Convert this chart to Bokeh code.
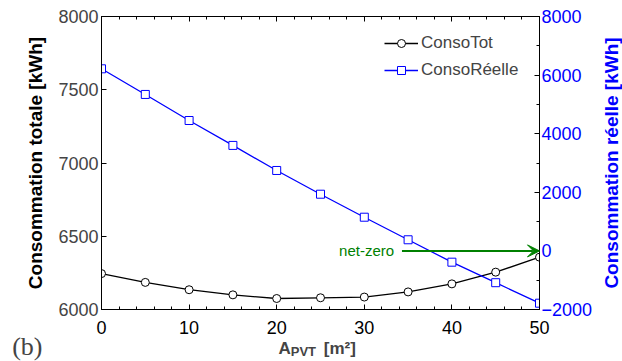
import math
from bokeh.plotting import figure
from bokeh.models import (Range1d, LinearAxis, SingleIntervalTicker, Legend, LegendItem,
                          Label, Arrow, VeeHead)
from bokeh.embed import file_html
from bokeh.resources import INLINE

# ---- data ----
area = [0, 5, 10, 15, 20, 25, 30, 35, 40, 45, 50]
conso_tot = [6245, 6185, 6135, 6100, 6075, 6080, 6085, 6120, 6175, 6255, 6357]
conso_reelle = [6215, 5340, 4450, 3600, 2745, 1935, 1150, 380, -385, -1085, -1785]
label_tot = "ConsoTot"
label_reelle = "ConsoRéelle"
ylabel_left = "Consommation totale [kWh]"
ylabel_right = "Consommation réelle [kWh]"
xlabel_main = "A"
xlabel_sub = "PVT"
xlabel_unit = "[m²]"
panel_tag = "(b)"
netzero_text = "net-zero"
arrow_from_x = 34.3
arrow_to_x = 50
arrow_y = 0

FONT = "Liberation Sans"
BLUE = "#0000ff"
GREEN = "#008000"
NBSP = "\u00a0"

p = figure(width=622, height=361, output_backend="svg", toolbar_location=None,
           x_range=Range1d(0, 50), y_range=Range1d(6000, 8000),
           min_border_left=101, min_border_right=83, min_border_top=16, min_border_bottom=52)
p.extra_y_ranges = {"y2": Range1d(-2000, 8000)}
p.xgrid.visible = False
p.ygrid.visible = False
p.outline_line_color = "black"
p.outline_line_width = 1
p.background_fill_color = "white"
p.border_fill_color = "white"

# x axis
xa = p.xaxis[0]
xa.ticker = SingleIntervalTicker(interval=10, num_minor_ticks=5)
xa.major_tick_in = 5
xa.major_tick_out = 0
xa.minor_tick_in = 3
xa.minor_tick_out = 0
xa.major_label_text_font = FONT
xa.major_label_text_font_size = "18px"
xa.major_label_text_color = "black"
xa.major_label_standoff = 11
xa.axis_line_color = "black"

# left axis (its title is drawn as a label in the left panel)
ya = p.yaxis[0]
ya.ticker = SingleIntervalTicker(interval=500, num_minor_ticks=0)
ya.major_tick_in = 5
ya.major_tick_out = 0
ya.minor_tick_line_color = None
ya.major_label_text_font = FONT
ya.major_label_text_font_size = "18px"
ya.major_label_standoff = 3

# right axis (title drawn separately so it reads bottom-to-top)
ra = LinearAxis(y_range_name="y2", ticker=SingleIntervalTicker(interval=2000, num_minor_ticks=2))
ra.major_tick_in = 5
ra.major_tick_out = 0
ra.minor_tick_in = 3
ra.minor_tick_out = 0
ra.major_label_text_font = FONT
ra.major_label_text_font_size = "18px"
ra.major_label_text_color = BLUE
ra.major_label_standoff = 2
p.add_layout(ra, "right")

# top axis (ticks only)
ta = LinearAxis(ticker=SingleIntervalTicker(interval=10, num_minor_ticks=5))
ta.major_tick_in = 5
ta.major_tick_out = 0
ta.minor_tick_in = 3
ta.minor_tick_out = 0
ta.major_label_text_font_size = "0px"
ta.major_label_standoff = 0
p.add_layout(ta, "above")

# series
l1 = p.line(area, conso_tot, line_color="black", line_width=1.3)
s1 = p.scatter(area, conso_tot, marker="circle", size=8, fill_color="white",
               line_color="black", line_width=1)
l2 = p.line(area, conso_reelle, line_color=BLUE, line_width=1.3, y_range_name="y2")
s2 = p.scatter(area, conso_reelle, marker="square", size=8, fill_color="white",
               line_color=BLUE, line_width=1, y_range_name="y2")

# net-zero arrow
p.add_layout(Arrow(end=VeeHead(size=12, line_color=GREEN, fill_color=GREEN, line_width=1),
                   x_start=arrow_from_x, y_start=arrow_y, x_end=arrow_to_x, y_end=arrow_y,
                   line_color=GREEN, line_width=2, y_range_name="y2"))
p.add_layout(Label(x=arrow_from_x - 0.9, y=arrow_y, y_range_name="y2", text=netzero_text,
                   text_font=FONT, text_font_size="15px", text_color=GREEN,
                   text_align="right", text_baseline="middle"))

# legend
legend = Legend(items=[LegendItem(label=label_tot, renderers=[l1, s1]),
                       LegendItem(label=label_reelle, renderers=[l2, s2])],
                location=(283, 229), padding=0, margin=0, spacing=7,
                glyph_width=34, glyph_height=20, label_height=20, label_standoff=3,
                label_text_font=FONT, label_text_font_size="17px",
                border_line_color=None, background_fill_alpha=0)
p.add_layout(legend)

# texts outside the frame live in side panels so they are not clipped
p.add_layout(Label(x=20.2, y=6000, text=xlabel_main + NBSP * 7 + xlabel_unit, text_font=FONT,
                   text_font_style="bold", text_font_size="17px", text_align="left",
                   text_baseline="alphabetic", y_offset=-39), "below")
p.add_layout(Label(x=21.6, y=6000, text=xlabel_sub, text_font=FONT, text_font_style="bold",
                   text_font_size="13px", text_align="left", text_baseline="alphabetic",
                   y_offset=-42), "above")
p.add_layout(Label(x=0, y=7000, text=ylabel_left, text_font=FONT,
                   text_font_style="bold", text_font_size="19px", text_color="black",
                   text_align="center", text_baseline="middle", angle=math.pi / 2,
                   x_offset=-66), "left")
p.add_layout(Label(x=-10.2, y=6000, text=panel_tag, text_font="Liberation Serif",
                   text_font_size="26px", text_align="left", text_baseline="alphabetic",
                   y_offset=-37), "left")
p.add_layout(Label(x=50, y=3000, y_range_name="y2", text=ylabel_right, text_font=FONT,
                   text_font_style="bold", text_font_size="19px", text_color=BLUE,
                   text_align="center", text_baseline="middle", angle=math.pi / 2,
                   x_offset=72), "right")

open("out.html", "w").write(file_html(p, INLINE))
